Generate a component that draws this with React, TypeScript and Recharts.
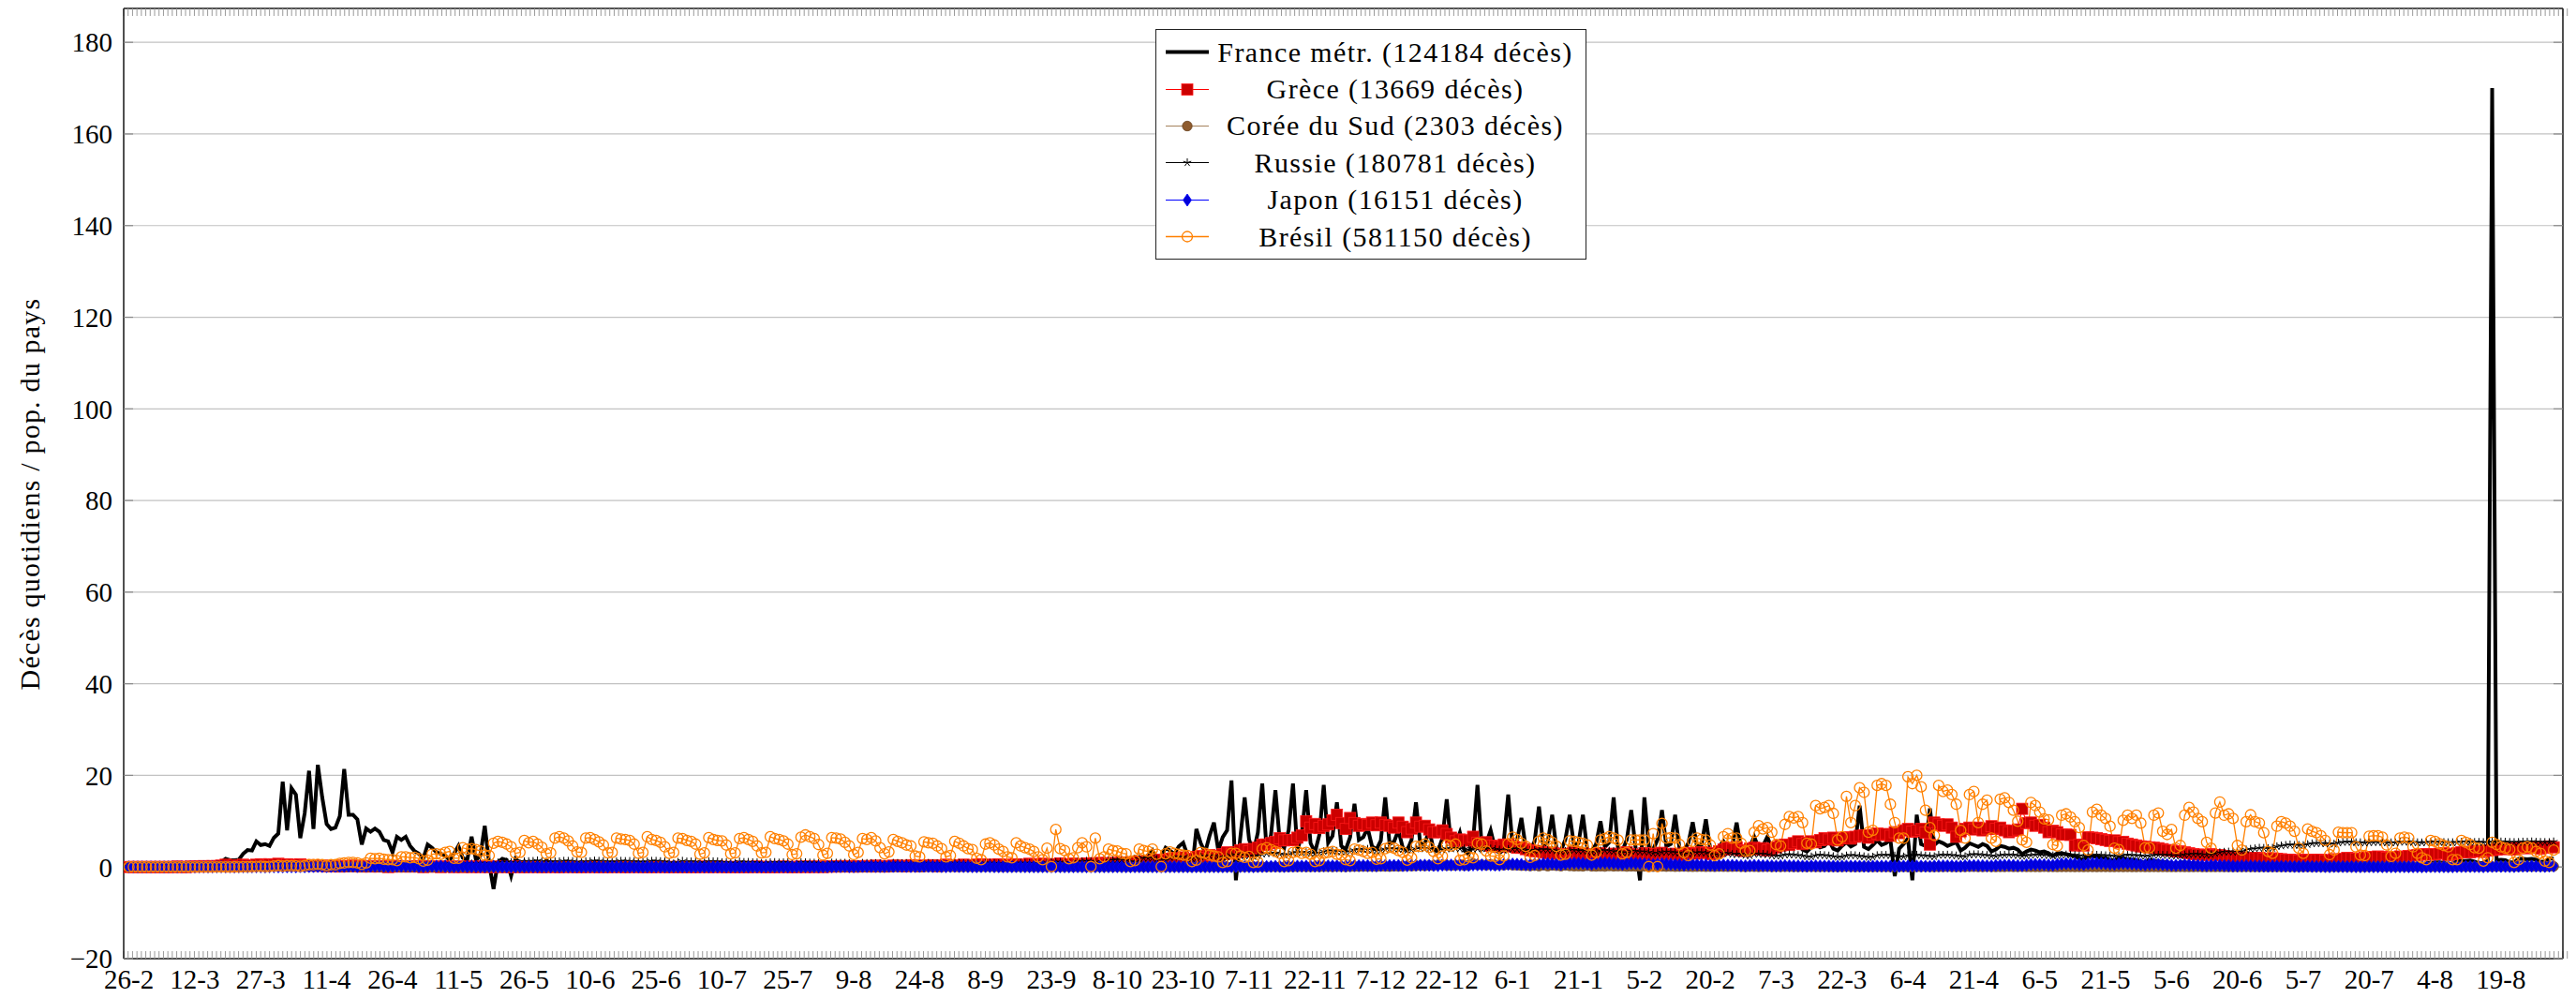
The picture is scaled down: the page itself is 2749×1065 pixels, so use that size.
import { CartesianGrid, Label, Legend, Line, LineChart, XAxis, YAxis } from "recharts";

const FONT = '"Liberation Serif", "DejaVu Serif", serif';

// une étiquette tous les 15 jours à partir du 26-2-2020 (jour 0)
const TICK_LABELS = [
    "26-2", "12-3", "27-3", "11-4", "26-4", "11-5", "26-5", "10-6", "25-6", "10-7", "25-7", "9-8", "24-8",
    "8-9", "23-9", "8-10", "23-10", "7-11", "22-11", "7-12", "22-12", "6-1", "21-1", "5-2", "20-2", "7-3",
    "22-3", "6-4", "21-4", "6-5", "21-5", "5-6", "20-6", "5-7", "20-7", "4-8", "19-8",
];
const Y_TICKS = [-20, 0, 20, 40, 60, 80, 100, 120, 140, 160, 180];

// décès quotidiens / pop. du pays, un chiffre par jour (2 semaines par ligne)
const FRANCE = [
    0, 0, 0, 0, 0, 0, 0, 0, 0, 0, 0, 0, 0, 0.1,
    0.1, 0.2, 0.2, 0.3, 0.4, 0.5, 0.6, 1.1, 1.8, 1.5, 1.5, 1.6, 2.9, 3.7,
    3.6, 5.6, 4.8, 5.0, 4.6, 6.4, 7.3, 18.6, 8.0, 17.2, 15.8, 6.3, 11.7, 21.0,
    8.3, 22.3, 15.2, 9.4, 8.3, 8.6, 11.1, 21.4, 11.4, 11.4, 10.4, 4.9, 8.4, 7.7,
    8.4, 7.7, 5.9, 5.6, 3.2, 6.6, 5.9, 6.6, 4.6, 3.5, 2.9, 1.8, 4.9, 4.2,
    3.2, 2.9, 2.5, 1.5, 2.9, 4.6, 2.0, 1.5, 6.6, 1.5, 2.5, 9.0, 0.8, -4.8,
    1.1, 1.8, 1.5, -1.9, 1.8, 0.9, 1.2, 0.8, 1.0, 0.6, 0.4, 1.4, 0.9, 1.1,
    0.7, 0.5, 0.4, 0.3, 0.4, 1.0, 0.6, 0.5, 0.4, 0.3, 0.2, 0.3, 0.8, 0.4,
    0.3, 0.4, 0.2, 0.1, 0.2, 0.5, 0.4, 0.3, 0.2, 0.2, 0.1, 0.1, 0.4, 0.3,
    0.3, 0.2, 0.2, 0.1, 0.1, 0.4, 0.3, 0.3, 0.2, 0.2, 0.1, 0.1, 0.3, 0.4,
    0.2, 0.3, 0.2, 0.1, 0.1, 0.3, 0.2, 0.2, 0.2, 0.2, 0.1, 0.1, 0.3, 0.2,
    0.3, 0.2, 0.2, 0.1, 0.1, 0.2, 0.3, 0.3, 0.2, 0.2, 0.1, 0.1, 0.3, 0.2,
    0.3, 0.3, 0.2, 0.1, 0.1, 0.4, 0.4, 0.3, 0.4, 0.3, 0.1, 0.2, 0.5, 0.5,
    0.5, 0.4, 0.3, 0.2, 0.2, 0.6, 0.5, 0.6, 0.5, 0.4, 0.2, 0.3, 0.9, 0.8,
    0.8, 0.7, 0.6, 0.3, 0.4, 1.2, 1.0, 1.1, 0.9, 0.8, 0.5, 0.4, 1.4, 1.2,
    1.3, 1.2, 1.0, 0.6, 0.6, 1.6, 1.5, 1.5, 1.3, 1.1, 0.7, 0.7, 1.9, 1.4,
    1.6, 1.5, 1.3, 0.9, 0.8, 2.2, 1.9, 1.8, 2.6, 3.6, 1.5, 2.2, 4.2, 3.6,
    2.8, 4.5, 5.3, 2.5, -0.9, 8.3, 5.2, 3.2, 6.8, 9.7, 3.6, 6.5, 8.0, 18.9,
    -2.9, 6.4, 15.2, 6.0, 3.2, 7.5, 18.2, 3.6, 7.0, 16.8, 5.5, 4.2, 8.0, 18.2,
    3.6, 7.2, 16.8, 5.2, 3.2, 7.0, 17.9, 5.3, 6.8, 14.1, 4.6, 3.8, 6.5, 13.8,
    5.9, 6.5, 8.5, 4.5, 3.8, 5.8, 15.2, 5.0, 5.5, 8.0, 4.2, 3.6, 6.0, 14.1,
    4.8, 5.0, 8.2, 3.8, 3.5, 6.2, 14.8, 4.5, 4.8, 7.5, 3.6, 2.8, 5.5, 17.9,
    4.0, 5.2, 8.0, 4.1, 3.2, 5.8, 15.8, 4.6, 5.8, 10.7, 4.2, 3.5, 5.6, 13.2,
    4.5, 5.5, 11.4, 4.0, 3.6, 6.0, 11.4, 4.6, 5.2, 11.4, 3.8, 3.4, 5.0, 10.0,
    4.4, 5.4, 15.2, 4.0, 3.6, 6.0, 12.4, 4.2, -2.9, 15.2, 4.4, 3.8, 6.0, 12.4,
    4.5, 5.0, 11.4, 4.0, 3.5, 5.2, 9.8, 4.3, 4.8, 10.4, 3.8, 3.4, 4.5, 5.6,
    4.2, 4.6, 9.7, 3.9, 3.5, 4.4, 6.6, 4.2, 4.6, 6.6, 3.9, 3.6, 4.2, 5.0,
    4.1, 4.5, 5.5, 3.8, 3.4, 4.3, 5.2, 4.3, 4.6, 5.8, 4.0, 3.6, 4.6, 5.4,
    4.5, 5.0, 13.4, 4.4, 3.9, 4.8, 5.8, 4.8, 5.2, 6.0, -2.0, 4.0, 5.0, 6.2,
    -2.9, 11.4, 5.0, 4.6, 12.8, 4.8, 5.6, 5.2, 4.6, 5.0, 5.4, 3.6, 4.2, 5.2,
    4.8, 4.4, 5.0, 4.6, 3.4, 3.8, 4.6, 4.4, 4.0, 4.2, 3.8, 2.8, 3.4, 3.8,
    3.6, 3.2, 3.4, 3.0, 2.4, 3.0, 3.0, 2.8, 2.6, 2.4, 1.8, 1.6, 2.4, 2.4,
    2.2, 2.0, 2.0, 1.5, 1.4, 2.0, 1.9, 1.7, 1.6, 1.5, 1.1, 1.0, 1.5, 1.4,
    1.2, 1.1, 1.0, 0.8, 0.7, 1.0, 1.0, 0.9, 0.8, 0.7, 0.5, 0.5, 0.8, 0.7,
    0.6, 0.6, 0.5, 0.4, 0.4, 0.6, 0.5, 0.5, 0.5, 0.4, 0.3, 0.3, 0.4, 0.4,
    0.4, 0.4, 0.3, 0.2, 0.2, 0.4, 0.3, 0.3, 0.3, 0.3, 0.2, 0.2, 0.3, 0.3,
    0.3, 0.3, 0.3, 0.2, 0.2, 0.4, 0.4, 0.4, 0.4, 0.4, 0.3, 0.3, 0.6, 0.6,
    0.7, 0.7, 0.6, 0.4, 0.4, 0.9, 0.9, 1.0, 1.0, 0.9, 0.6, 0.6, 1.3, 1.3,
    1.3, 1.4, 1.2, 0.8, 0.9, 1.6, 170.0, 1.5, 1.6, 1.5, 1.0, 1.0, 1.8, 1.8,
    1.7, 1.8, 1.6, 1.1, 1.2, 1.9, 1.8,
];

const GRECE = [
    0, 0, 0, 0, 0, 0, 0, 0, 0, 0, 0, 0.1, 0, 0,
    0.1, 0.1, 0.1, 0.2, 0.1, 0.2, 0.2, 0.3, 0.5, 0.1, 0.4, 0.2, 0.5, 0.3,
    0.3, 0.5, 0.6, 0.3, 0.6, 0.5, 0.7, 0.4, 0.6, 0.5, 0.3, 0.6, 0.3, 0.4,
    0.3, 0.3, 0.3, 0.2, 0.2, 0.3, 0.1, 0.2, 0.2, 0.3, 0.2, 0.1, 0.2, 0.1,
    0.2, 0.1, 0.2, 0, 0.1, 0.1, 0.2, 0.1, 0.1, 0.2, 0.1, 0, 0.1, 0.1,
    0.1, 0, 0.1, 0.1, 0, 0.1, 0, 0.1, 0, 0.1, 0, 0.1, 0, 0.1,
    0, 0.1, 0, 0, 0.1, 0, 0, 0, 0.1, 0, 0, 0, 0.1, 0,
    0, 0, 0.1, 0, 0, 0, 0, 0.1, 0, 0, 0, 0, 0, 0.1,
    0, 0, 0, 0.1, 0, 0, 0, 0, 0, 0.1, 0, 0, 0, 0,
    0, 0, 0, 0, 0, 0.1, 0, 0, 0.1, 0, 0, 0, 0, 0,
    0, 0, 0, 0.1, 0, 0, 0, 0, 0, 0.1, 0, 0, 0, 0.1,
    0, 0.1, 0, 0.1, 0, 0.1, 0.1, 0.1, 0.2, 0.1, 0.2, 0.1, 0.1, 0.2,
    0.2, 0.1, 0.3, 0.2, 0.1, 0.2, 0.3, 0.3, 0.2, 0.2, 0.4, 0.3, 0.2, 0.3,
    0.3, 0.4, 0.2, 0.3, 0.5, 0.4, 0.3, 0.3, 0.5, 0.4, 0.3, 0.5, 0.6, 0.4,
    0.5, 0.4, 0.6, 0.3, 0.5, 0.4, 0.6, 0.5, 0.4, 0.7, 0.6, 0.5, 0.7, 0.4,
    0.5, 0.6, 0.8, 0.5, 0.6, 0.7, 0.5, 0.6, 0.8, 0.7, 0.5, 0.9, 0.6, 0.8,
    0.9, 0.7, 1.0, 0.8, 0.9, 1.1, 1.2, 1.2, 1.4, 1.1, 0.9, 1.6, 1.5, 1.8,
    1.9, 1.7, 2.1, 1.5, 1.8, 2.2, 2.4, 2.0, 2.6, 2.4, 2.2, 2.8, 3.2, 2.9,
    3.2, 3.6, 3.9, 3.4, 3.9, 4.2, 4.9, 4.9, 5.2, 5.5, 6.3, 5.8, 5.9, 5.9,
    6.4, 6.9, 10.0, 8.6, 9.4, 8.5, 9.0, 9.3, 10.2, 11.4, 9.6, 8.3, 10.7, 9.6,
    9.0, 9.4, 9.2, 9.7, 9.1, 9.7, 9.2, 9.0, 8.6, 9.7, 8.8, 7.6, 8.4, 9.7,
    8.8, 9.0, 8.2, 7.6, 7.6, 8.0, 7.2, 6.4, 5.6, 6.0, 5.8, 5.8, 6.6, 5.3,
    5.0, 5.4, 4.6, 4.6, 4.4, 4.9, 4.9, 4.5, 4.2, 4.2, 3.9, 3.6, 3.5, 3.4,
    3.2, 3.0, 3.1, 2.9, 2.8, 2.7, 2.9, 3.2, 2.8, 2.9, 2.6, 2.7, 2.8, 3.0,
    2.6, 2.5, 2.9, 2.4, 2.7, 3.2, 2.8, 2.5, 2.6, 3.0, 2.8, 2.4, 2.9, 3.1,
    2.7, 2.8, 2.9, 2.5, 2.6, 3.1, 3.0, 2.9, 3.2, 3.1, 2.8, 3.0, 3.4, 3.8,
    4.2, 3.9, 4.3, 3.6, 3.5, 4.0, 4.2, 3.8, 4.1, 3.6, 3.9, 4.3, 4.7, 4.9,
    4.8, 5.2, 5.6, 5.0, 5.3, 5.6, 5.4, 5.9, 6.3, 6.0, 6.4, 5.8, 6.3, 6.5,
    6.2, 6.6, 6.8, 6.9, 6.4, 7.0, 7.3, 7.0, 7.2, 6.8, 7.6, 7.4, 8.0, 8.3,
    7.7, 7.9, 8.3, 7.5, 4.9, 9.7, 9.3, 9.0, 9.3, 8.6, 6.6, 7.8, 8.3, 8.6,
    8.2, 8.6, 8.0, 8.4, 8.9, 8.3, 8.6, 8.0, 7.6, 7.9, 8.2, 12.7, 9.6, 9.7,
    9.0, 9.2, 8.6, 7.6, 7.9, 7.6, 7.1, 7.1, 7.0, 4.7, 4.9, 4.7, 6.5, 6.4,
    6.3, 6.1, 5.9, 5.7, 5.8, 5.4, 5.5, 5.1, 4.9, 4.7, 4.5, 4.4, 4.3, 4.2,
    4.1, 3.9, 3.7, 3.6, 3.4, 3.4, 3.2, 3.0, 2.8, 2.7, 2.7, 2.6, 2.8, 2.6,
    2.6, 2.4, 2.3, 2.2, 2.0, 2.1, 2.0, 2.0, 1.9, 2.0, 1.8, 1.7, 1.9, 1.8,
    1.7, 1.6, 1.6, 1.5, 1.4, 1.6, 1.5, 1.6, 1.5, 1.6, 1.4, 1.5, 1.7, 1.6,
    1.8, 2.0, 1.9, 1.8, 1.7, 2.1, 2.0, 2.2, 2.3, 2.2, 2.0, 2.0, 2.1, 2.3,
    2.2, 2.4, 2.5, 2.6, 2.7, 2.8, 2.7, 2.8, 2.9, 3.0, 2.6, 2.8, 3.0, 3.2,
    3.3, 3.2, 3.5, 3.4, 3.3, 3.6, 3.7, 3.8, 4.0, 3.9, 4.1, 3.8, 4.2, 4.3,
    4.1, 4.3, 4.4, 4.0, 4.2, 4.5, 4.3,
];

const COREE = [
    0.02, 0.04, 0.04, 0.02, 0.02, 0.06, 0.06, 0.1, 0.06, 0.08, 0.04, 0.06, 0.08, 0.12,
    0.06, 0.1, 0.06, 0.1, 0.04, 0.1, 0.06, 0.14, 0.04, 0.16, 0.06, 0.12, 0.1, 0.08,
    0.12, 0.1, 0.18, 0.08, 0.12, 0.12, 0.08, 0.08, 0.06, 0.1, 0.08, 0.06, 0.06, 0.08,
    0.06, 0.08, 0.06, 0.04, 0.06, 0.04, 0.04, 0.04, 0.02, 0.04, 0.02, 0.02, 0.02, 0.02,
    0.02, 0.02, 0, 0.02, 0.02, 0.02, 0, 0.02, 0, 0.02, 0, 0, 0.02, 0,
    0, 0.02, 0, 0, 0.02, 0, 0, 0, 0, 0.02, 0, 0, 0, 0.02,
    0, 0, 0, 0.02, 0, 0, 0, 0.02, 0, 0, 0, 0, 0.02, 0,
    0, 0.02, 0, 0, 0, 0, 0.02, 0, 0, 0.02, 0, 0, 0, 0,
    0.02, 0, 0, 0.02, 0, 0, 0, 0, 0, 0.02, 0, 0, 0, 0.02,
    0, 0.02, 0, 0, 0, 0.02, 0, 0, 0, 0.02, 0, 0, 0, 0,
    0.02, 0, 0, 0, 0.02, 0, 0, 0, 0, 0.02, 0, 0, 0, 0,
    0, 0.02, 0, 0, 0, 0, 0.02, 0, 0, 0, 0.02, 0, 0, 0,
    0, 0.02, 0, 0, 0, 0.02, 0, 0.02, 0.04, 0.02, 0.04, 0.02, 0, 0.02,
    0.04, 0.02, 0.04, 0.02, 0.06, 0.02, 0.04, 0.02, 0.04, 0.02, 0.06, 0.04, 0.02, 0.04,
    0.06, 0.02, 0.04, 0.02, 0.04, 0.02, 0.02, 0.04, 0.02, 0.02, 0.04, 0.02, 0.02, 0.04,
    0.02, 0.04, 0.02, 0.02, 0.04, 0.02, 0.02, 0.02, 0.02, 0.04, 0.02, 0.02, 0.02, 0.04,
    0.02, 0.04, 0.02, 0.02, 0.02, 0.04, 0.02, 0.02, 0.02, 0.02, 0.04, 0.02, 0.02, 0.02,
    0.04, 0.02, 0.02, 0.02, 0.02, 0.04, 0.02, 0.02, 0.02, 0.04, 0.02, 0.02, 0.02, 0.02,
    0.04, 0.02, 0.02, 0.04, 0.02, 0.02, 0.04, 0.02, 0.04, 0.04, 0.02, 0.04, 0.02, 0.04,
    0.04, 0.06, 0.04, 0.04, 0.06, 0.04, 0.06, 0.06, 0.04, 0.08, 0.06, 0.04, 0.08, 0.1,
    0.1, 0.12, 0.1, 0.12, 0.1, 0.14, 0.12, 0.1, 0.16, 0.12, 0.16, 0.24, 0.2, 0.24,
    0.3, 0.24, 0.34, 0.28, 0.48, 0.46, 0.32, 0.34, 0.34, 0.48, 0.3, 0.36, 0.78, 0.46,
    0.5, 0.38, 0.56, 0.38, 0.48, 0.4, 0.5, 0.4, 0.38, 0.3, 0.3, 0.22, 0.3, 0.2,
    0.4, 0.2, 0.36, 0.28, 0.2, 0.34, 0.24, 0.18, 0.2, 0.16, 0.28, 0.16, 0.14, 0.18,
    0.12, 0.22, 0.16, 0.18, 0.2, 0.12, 0.16, 0.14, 0.12, 0.16, 0.1, 0.08, 0.12, 0.14,
    0.1, 0.12, 0.08, 0.1, 0.12, 0.08, 0.06, 0.08, 0.1, 0.06, 0.08, 0.06, 0.1, 0.08,
    0.06, 0.08, 0.1, 0.06, 0.04, 0.08, 0.06, 0.04, 0.06, 0.08, 0.04, 0.06, 0.04, 0.06,
    0.06, 0.04, 0.04, 0.06, 0.04, 0.06, 0.04, 0.04, 0.06, 0.04, 0.04, 0.02, 0.04, 0.06,
    0.04, 0.02, 0.04, 0.06, 0.04, 0.02, 0.04, 0.04, 0.04, 0.02, 0.04, 0.06, 0.04, 0.02,
    0.02, 0.04, 0.04, 0.06, 0.04, 0.02, 0.04, 0.04, 0.06, 0.04, 0.02, 0.04, 0.04, 0.06,
    0.06, 0.04, 0.04, 0.06, 0.04, 0.02, 0.04, 0.04, 0.06, 0.04, 0.04, 0.06, 0.04, 0.04,
    0.04, 0.02, 0.06, 0.04, 0.04, 0.02, 0.04, 0.04, 0.04, 0.02, 0.04, 0.02, 0.04, 0.04,
    0.02, 0.04, 0.04, 0.02, 0.02, 0.04, 0.02, 0.04, 0.02, 0.02, 0.04, 0.02, 0.02, 0.04,
    0.02, 0.04, 0.02, 0.02, 0.02, 0.04, 0.02, 0.02, 0.02, 0.04, 0.02, 0.02, 0.02, 0.02,
    0.04, 0.02, 0.02, 0.02, 0.02, 0.02, 0.04, 0.02, 0.02, 0.02, 0.04, 0.02, 0.02, 0.02,
    0.02, 0.04, 0.02, 0.02, 0.02, 0.02, 0.04, 0.02, 0.02, 0.04, 0.02, 0.02, 0.04, 0.02,
    0.04, 0.02, 0.02, 0.04, 0.02, 0.02, 0.04, 0.04, 0.06, 0.04, 0.04, 0.06, 0.04, 0.06,
    0.06, 0.04, 0.06, 0.08, 0.04, 0.06, 0.04, 0.06, 0.08, 0.06, 0.04, 0.08, 0.06, 0.08,
    0.08, 0.06, 0.1, 0.08, 0.06, 0.1, 0.08, 0.1, 0.08, 0.12, 0.1, 0.08, 0.1, 0.12,
    0.12, 0.1, 0.12, 0.14, 0.1, 0.12, 0.14,
];

const RUSSIE = [
    0, 0, 0, 0, 0, 0, 0, 0, 0, 0, 0, 0, 0, 0,
    0, 0, 0, 0, 0, 0, 0, 0, 0, 0, 0, 0, 0, 0,
    0, 0, 0, 0.01, 0.01, 0.01, 0.01, 0.02, 0.02, 0.03, 0.04, 0.03, 0.05, 0.06,
    0.07, 0.09, 0.1, 0.12, 0.13, 0.15, 0.16, 0.2, 0.2, 0.28, 0.29, 0.33, 0.29, 0.33,
    0.38, 0.45, 0.4, 0.47, 0.51, 0.41, 0.42, 0.55, 0.5, 0.66, 0.39, 0.42, 0.47, 0.54,
    0.6, 0.64, 0.67, 0.72, 0.7, 0.66, 0.59, 0.79, 0.72, 0.74, 0.86, 0.81, 0.66, 0.63,
    0.93, 1.03, 1.12, 1.0, 0.95, 0.73, 1.19, 1.21, 1.26, 1.38, 1.18, 1.14, 1.07, 1.18,
    1.17, 1.3, 1.28, 1.23, 1.15, 0.93, 1.2, 1.2, 1.34, 1.29, 1.2, 1.18, 1.05, 1.17,
    1.3, 1.24, 1.25, 1.17, 1.1, 1.07, 1.16, 1.3, 1.29, 1.21, 1.15, 0.99, 0.74, 1.06,
    1.3, 1.15, 1.15, 1.14, 0.92, 0.91, 1.19, 1.19, 1.17, 1.0, 1.01, 0.9, 0.82, 1.15,
    1.03, 1.06, 0.98, 0.96, 0.83, 0.78, 0.97, 1.02, 0.91, 0.96, 0.97, 0.63, 0.65, 0.99,
    0.98, 0.9, 0.88, 0.83, 0.64, 0.48, 0.91, 0.88, 0.84, 0.87, 0.77, 0.48, 0.56, 0.84,
    0.81, 0.8, 0.79, 0.76, 0.58, 0.47, 0.85, 0.82, 0.78, 0.78, 0.7, 0.5, 0.45, 0.83,
    0.82, 0.76, 0.73, 0.7, 0.44, 0.49, 0.85, 0.82, 0.77, 0.73, 0.65, 0.51, 0.46, 0.87,
    0.87, 0.78, 0.76, 0.72, 0.5, 0.46, 0.88, 0.84, 0.85, 0.8, 0.76, 0.46, 0.55, 0.93,
    1.01, 1.04, 1.08, 0.93, 0.74, 0.74, 1.16, 1.17, 1.28, 1.24, 1.11, 0.89, 0.95, 1.43,
    1.48, 1.56, 1.58, 1.4, 1.12, 1.1, 1.75, 1.96, 1.94, 1.95, 1.67, 1.41, 1.47, 2.1,
    2.2, 2.16, 2.2, 1.95, 1.8, 1.87, 2.21, 2.38, 2.46, 2.4, 2.13, 2.0, 2.19, 2.52,
    2.67, 2.57, 2.5, 2.45, 2.3, 2.51, 2.8, 2.97, 2.99, 3.01, 2.83, 2.65, 2.75, 3.12,
    3.13, 3.19, 3.17, 3.0, 3.0, 3.1, 3.39, 3.53, 3.53, 3.45, 3.39, 3.28, 3.38, 3.68,
    3.86, 3.88, 3.9, 3.7, 3.51, 3.64, 3.87, 3.98, 3.94, 3.91, 3.88, 3.68, 3.76, 3.96,
    4.1, 4.0, 3.96, 3.83, 3.75, 3.8, 3.99, 4.0, 4.06, 3.99, 3.95, 3.79, 3.88, 4.0,
    4.05, 4.01, 3.96, 3.84, 3.73, 3.64, 3.86, 3.96, 3.9, 3.84, 3.64, 3.6, 3.6, 3.77,
    3.82, 3.71, 3.68, 3.58, 3.38, 3.44, 3.6, 3.65, 3.56, 3.51, 3.42, 3.21, 3.2, 3.52,
    3.63, 3.5, 3.4, 3.3, 3.12, 3.1, 3.46, 3.47, 3.29, 3.31, 3.2, 2.98, 2.99, 3.22,
    3.27, 3.24, 3.1, 3.08, 2.75, 2.86, 3.04, 3.13, 3.15, 3.05, 2.82, 2.67, 2.59, 2.96,
    2.99, 2.76, 2.76, 2.79, 2.55, 2.48, 2.82, 2.78, 2.8, 2.7, 2.48, 2.4, 2.43, 2.67,
    2.68, 2.66, 2.54, 2.44, 2.21, 2.24, 2.52, 2.6, 2.52, 2.44, 2.3, 2.14, 2.2, 2.45,
    2.55, 2.5, 2.36, 2.27, 2.1, 2.18, 2.52, 2.57, 2.58, 2.53, 2.44, 2.29, 2.23, 2.52,
    2.6, 2.6, 2.51, 2.44, 2.33, 2.27, 2.61, 2.59, 2.63, 2.54, 2.46, 2.32, 2.28, 2.66,
    2.71, 2.72, 2.62, 2.56, 2.41, 2.35, 2.57, 2.61, 2.66, 2.6, 2.52, 2.38, 2.47, 2.58,
    2.67, 2.63, 2.59, 2.52, 2.47, 2.49, 2.6, 2.66, 2.62, 2.58, 2.48, 2.4, 2.45, 2.59,
    2.6, 2.54, 2.49, 2.43, 2.3, 2.33, 2.53, 2.58, 2.55, 2.5, 2.45, 2.35, 2.38, 2.59,
    2.6, 2.58, 2.55, 2.46, 2.4, 2.44, 2.64, 2.73, 2.79, 2.78, 2.64, 2.62, 2.69, 2.96,
    3.15, 3.26, 3.3, 3.27, 3.25, 3.39, 3.76, 3.9, 4.0, 4.14, 4.1, 4.05, 4.13, 4.46,
    4.63, 4.75, 4.86, 4.75, 4.75, 4.72, 4.93, 5.11, 5.17, 5.16, 5.08, 5.09, 5.03, 5.27,
    5.41, 5.45, 5.43, 5.34, 5.33, 5.26, 5.34, 5.38, 5.41, 5.4, 5.29, 5.31, 5.3, 5.46,
    5.44, 5.47, 5.39, 5.33, 5.29, 5.35, 5.4, 5.44, 5.43, 5.38, 5.34, 5.34, 5.37, 5.44,
    5.45, 5.43, 5.4, 5.41, 5.37, 5.34, 5.47, 5.48, 5.5, 5.46, 5.4, 5.38, 5.4, 5.48,
    5.47, 5.52, 5.44, 5.41, 5.39, 5.37, 5.52,
];

const JAPON = [
    0, 0, 0, 0, 0, 0, 0, 0, 0, 0.01, 0, 0, 0.01, 0,
    0.01, 0.01, 0, 0.02, 0, 0.01, 0.01, 0.02, 0.01, 0.02, 0, 0.01, 0.02, 0.02,
    0.02, 0.03, 0.03, 0.01, 0.04, 0.05, 0.04, 0.03, 0.05, 0.06, 0.03, 0.08, 0.06, 0.09,
    0.1, 0.12, 0.1, 0.08, 0.11, 0.14, 0.15, 0.13, 0.2, 0.16, 0.1, 0.22, 0.18, 0.15,
    0.2, 0.23, 0.17, 0.12, 0.15, 0.18, 0.21, 0.19, 0.17, 0.15, 0.12, 0.1, 0.16, 0.2,
    0.14, 0.18, 0.12, 0.1, 0.08, 0.13, 0.16, 0.1, 0.09, 0.08, 0.06, 0.05, 0.1, 0.09,
    0.07, 0.06, 0.05, 0.03, 0.04, 0.07, 0.06, 0.05, 0.03, 0.03, 0.02, 0.02, 0.05, 0.04,
    0.03, 0.02, 0.02, 0.01, 0.01, 0.02, 0.02, 0.02, 0.01, 0.02, 0.01, 0.01, 0.02, 0.01,
    0.01, 0.02, 0.01, 0, 0.01, 0.01, 0.02, 0.01, 0.01, 0.01, 0, 0, 0.02, 0.01,
    0.01, 0.01, 0.01, 0, 0, 0.01, 0.01, 0.01, 0.02, 0.01, 0, 0.01, 0.01, 0.01,
    0.02, 0.01, 0.02, 0.01, 0, 0.02, 0.02, 0.02, 0.03, 0.02, 0.01, 0.02, 0.03, 0.04,
    0.04, 0.05, 0.04, 0.03, 0.04, 0.06, 0.07, 0.08, 0.09, 0.1, 0.07, 0.06, 0.1, 0.12,
    0.11, 0.12, 0.1, 0.09, 0.08, 0.13, 0.12, 0.13, 0.12, 0.11, 0.09, 0.1, 0.12, 0.14,
    0.12, 0.1, 0.11, 0.08, 0.07, 0.1, 0.12, 0.1, 0.09, 0.08, 0.07, 0.06, 0.08, 0.1,
    0.08, 0.07, 0.06, 0.06, 0.05, 0.07, 0.08, 0.06, 0.06, 0.05, 0.04, 0.04, 0.06, 0.06,
    0.05, 0.05, 0.04, 0.04, 0.03, 0.05, 0.06, 0.05, 0.04, 0.05, 0.04, 0.04, 0.05, 0.05,
    0.05, 0.06, 0.05, 0.04, 0.03, 0.05, 0.06, 0.05, 0.05, 0.05, 0.04, 0.03, 0.05, 0.06,
    0.06, 0.05, 0.06, 0.05, 0.04, 0.06, 0.07, 0.06, 0.07, 0.06, 0.05, 0.05, 0.07, 0.08,
    0.08, 0.09, 0.08, 0.07, 0.06, 0.09, 0.1, 0.12, 0.13, 0.14, 0.12, 0.1, 0.15, 0.17,
    0.2, 0.19, 0.2, 0.18, 0.16, 0.22, 0.25, 0.26, 0.24, 0.25, 0.22, 0.2, 0.27, 0.3,
    0.3, 0.32, 0.29, 0.27, 0.26, 0.33, 0.36, 0.33, 0.36, 0.34, 0.3, 0.28, 0.38, 0.4,
    0.38, 0.4, 0.37, 0.33, 0.3, 0.42, 0.45, 0.43, 0.44, 0.42, 0.38, 0.33, 0.45, 0.48,
    0.46, 0.5, 0.45, 0.4, 0.42, 0.55, 0.6, 0.64, 0.6, 0.58, 0.5, 0.48, 0.62, 0.7,
    0.72, 0.75, 0.7, 0.62, 0.55, 0.72, 0.8, 0.85, 0.82, 0.8, 0.7, 0.65, 0.78, 0.88,
    0.9, 0.85, 0.82, 0.72, 0.6, 0.75, 0.85, 0.8, 0.75, 0.7, 0.6, 0.55, 0.65, 0.72,
    0.68, 0.62, 0.58, 0.5, 0.42, 0.52, 0.56, 0.52, 0.48, 0.45, 0.38, 0.33, 0.42, 0.45,
    0.4, 0.38, 0.35, 0.3, 0.26, 0.32, 0.36, 0.33, 0.3, 0.29, 0.25, 0.22, 0.28, 0.3,
    0.27, 0.26, 0.24, 0.2, 0.18, 0.24, 0.25, 0.24, 0.22, 0.22, 0.18, 0.16, 0.2, 0.22,
    0.2, 0.18, 0.18, 0.15, 0.13, 0.18, 0.2, 0.2, 0.19, 0.18, 0.15, 0.14, 0.19, 0.22,
    0.22, 0.2, 0.2, 0.17, 0.15, 0.22, 0.25, 0.26, 0.25, 0.24, 0.2, 0.19, 0.28, 0.32,
    0.33, 0.32, 0.3, 0.26, 0.25, 0.35, 0.4, 0.42, 0.4, 0.38, 0.32, 0.3, 0.45, 0.55,
    0.58, 0.55, 0.52, 0.45, 0.42, 0.6, 0.7, 0.75, 0.72, 0.7, 0.6, 0.55, 0.72, 0.82,
    0.85, 0.8, 0.76, 0.65, 0.6, 0.72, 0.8, 0.75, 0.7, 0.65, 0.55, 0.5, 0.6, 0.65,
    0.6, 0.55, 0.5, 0.42, 0.38, 0.45, 0.48, 0.45, 0.42, 0.38, 0.32, 0.28, 0.35, 0.36,
    0.33, 0.3, 0.27, 0.22, 0.2, 0.25, 0.26, 0.24, 0.22, 0.2, 0.16, 0.14, 0.18, 0.19,
    0.17, 0.15, 0.14, 0.11, 0.1, 0.13, 0.14, 0.12, 0.11, 0.1, 0.08, 0.07, 0.1, 0.1,
    0.09, 0.08, 0.08, 0.06, 0.05, 0.08, 0.08, 0.07, 0.07, 0.06, 0.05, 0.05, 0.07, 0.07,
    0.07, 0.06, 0.06, 0.05, 0.04, 0.07, 0.08, 0.08, 0.07, 0.07, 0.06, 0.05, 0.08, 0.1,
    0.1, 0.1, 0.09, 0.08, 0.07, 0.1, 0.12, 0.13, 0.12, 0.12, 0.1, 0.09, 0.13, 0.16,
    0.17, 0.18, 0.17, 0.14, 0.12, 0.18, 0.22,
];

const BRESIL = [
    0, 0, 0, 0, 0, 0, 0, 0, 0, 0, 0, 0, 0, 0,
    0, 0, 0, 0, 0, 0, 0.01, 0.01, 0.02, 0.03, 0.04, 0.03, 0.05, 0.06,
    0.1, 0.12, 0.15, 0.1, 0.12, 0.2, 0.3, 0.2, 0.3, 0.28, 0.28, 0.18, 0.3, 0.5,
    0.5, 0.6, 0.5, 0.3, 0.5, 0.5, 0.8, 0.9, 1.0, 1.0, 0.9, 0.6, 0.9, 1.9,
    1.8, 1.9, 1.7, 1.6, 1.6, 1.4, 2.2, 2.2, 2.0, 2.1, 1.8, 1.3, 1.5, 2.8,
    2.9, 2.8, 3.2, 3.4, 1.9, 1.9, 4.2, 3.9, 4.0, 3.8, 3.5, 2.6, 2.5, 5.2,
    5.6, 5.4, 5.0, 4.4, 3.0, 3.2, 5.8, 5.3, 5.6, 5.0, 4.3, 2.9, 3.1, 6.3,
    6.6, 6.3, 5.7, 4.6, 3.3, 3.2, 6.3, 6.4, 6.0, 5.5, 4.8, 3.1, 3.2, 6.3,
    6.1, 6.0, 5.8, 5.0, 3.0, 3.2, 6.6, 6.0, 5.8, 5.4, 4.4, 3.0, 3.2, 6.3,
    6.2, 5.8, 5.6, 5.0, 2.8, 3.1, 6.4, 6.0, 5.8, 5.7, 4.8, 2.9, 3.1, 6.2,
    6.4, 6.0, 5.6, 4.6, 3.1, 3.2, 6.6, 6.2, 6.0, 5.7, 5.0, 2.7, 2.9, 6.5,
    7.0, 6.6, 6.2, 4.9, 2.6, 3.0, 6.4, 6.3, 6.1, 5.4, 4.6, 2.7, 3.2, 6.2,
    6.0, 6.4, 5.7, 4.2, 2.9, 3.3, 6.0, 5.6, 5.3, 4.8, 4.6, 2.4, 2.2, 5.5,
    5.3, 5.2, 4.6, 4.0, 2.2, 2.5, 5.6, 5.2, 4.6, 4.0, 3.8, 1.9, 1.6, 5.0,
    5.3, 4.8, 3.9, 3.4, 2.2, 2.0, 5.3, 4.6, 4.2, 3.9, 3.4, 2.2, 1.6, 4.1,
    0.1, 8.2, 4.0, 3.6, 1.8, 2.0, 4.2, 5.3, 4.4, 0.1, 6.3, 1.8, 2.2, 3.9,
    3.6, 3.5, 3.0, 2.9, 1.2, 1.4, 3.9, 3.6, 3.4, 3.9, 2.8, 0.1, 2.9, 3.3,
    3.0, 2.8, 2.6, 2.5, 1.2, 1.5, 3.2, 3.0, 2.6, 2.4, 2.2, 1.0, 1.2, 3.0,
    3.0, 2.4, 2.1, 2.3, 1.0, 1.1, 3.9, 4.2, 3.8, 3.4, 3.0, 1.2, 1.4, 3.2,
    3.4, 3.0, 3.2, 2.8, 1.2, 1.4, 3.0, 3.2, 3.4, 2.8, 2.6, 1.6, 1.4, 3.9,
    3.7, 3.4, 3.0, 3.2, 1.7, 1.8, 4.0, 4.3, 4.1, 3.6, 3.2, 1.5, 2.0, 4.5,
    4.5, 5.0, 4.3, 3.4, 1.8, 2.4, 4.8, 4.6, 5.0, 1.5, 1.6, 2.2, 2.0, 5.2,
    5.0, 3.5, 2.4, 2.3, 1.6, 2.4, 5.1, 6.5, 6.0, 5.2, 4.5, 2.1, 2.5, 5.6,
    6.3, 6.0, 5.4, 4.5, 2.6, 2.8, 5.7, 5.6, 5.4, 5.2, 4.8, 2.6, 3.2, 5.9,
    6.2, 6.6, 6.3, 5.9, 2.9, 3.2, 5.9, 5.9, 5.9, 5.9, 0.1, 7.3, 0.1, 9.5,
    6.3, 6.4, 6.3, 4.9, 3.2, 2.5, 5.6, 6.3, 6.0, 5.9, 4.8, 2.5, 2.9, 6.6,
    7.3, 6.3, 6.3, 5.2, 3.5, 3.6, 7.6, 9.0, 8.3, 8.6, 7.6, 4.9, 4.6, 9.3,
    11.0, 10.7, 11.0, 9.7, 5.2, 5.0, 13.4, 12.7, 13.0, 13.4, 11.7, 5.9, 6.6, 15.4,
    9.7, 13.4, 17.3, 16.3, 7.6, 8.0, 17.8, 18.2, 17.8, 13.7, 9.7, 6.3, 6.3, 19.7,
    18.2, 20.0, 17.5, 12.4, 8.6, 6.9, 17.8, 16.5, 16.8, 15.8, 13.7, 8.0, 6.3, 15.8,
    16.5, 9.7, 13.7, 14.6, 6.3, 5.6, 14.8, 15.1, 14.1, 12.4, 10.0, 5.9, 5.4, 14.1,
    13.4, 12.0, 10.5, 10.3, 4.9, 4.6, 11.3, 11.6, 10.9, 9.9, 8.6, 4.7, 3.7, 12.0,
    12.6, 11.3, 10.6, 8.9, 4.1, 3.8, 10.2, 11.3, 10.6, 11.3, 9.6, 4.2, 4.2, 11.3,
    11.8, 7.8, 7.1, 8.2, 4.1, 4.7, 11.3, 13.0, 12.0, 10.6, 9.9, 5.4, 4.1, 11.8,
    14.2, 11.3, 11.6, 10.6, 4.7, 3.7, 9.9, 11.4, 9.9, 9.6, 7.5, 3.4, 3.0, 8.9,
    9.9, 9.6, 8.9, 7.8, 4.1, 3.0, 8.3, 7.8, 7.5, 6.8, 5.8, 2.7, 3.7, 7.6,
    7.5, 7.5, 7.5, 4.4, 2.6, 2.5, 6.7, 6.8, 6.8, 6.5, 4.8, 2.3, 3.0, 6.3,
    6.5, 6.3, 4.4, 3.0, 2.0, 1.6, 5.8, 5.6, 5.1, 4.7, 4.4, 1.6, 1.6, 5.8,
    5.4, 4.9, 4.2, 4.1, 1.3, 2.0, 5.4, 4.9, 4.4, 4.1, 3.8, 1.0, 1.6, 4.1,
    4.4, 4.1, 3.4, 3.0, 1.3, 1.0, 3.7,
];

const NOMS = {
    france: "France métr. (124184 décès)",
    grece: "Grèce (13669 décès)",
    coree: "Corée du Sud (2303 décès)",
    russie: "Russie (180781 décès)",
    japon: "Japon (16151 décès)",
    bresil: "Brésil (581150 décès)",
};

const data = FRANCE.map((v, i) => ({
    jour: i,
    france: v,
    grece: GRECE[i],
    coree: COREE[i],
    russie: RUSSIE[i],
    japon: JAPON[i],
    bresil: BRESIL[i],
}));

const X_DOMAIN = [-1.2, 554.1];
const Y_DOMAIN = [-20, 187.4];
const majorTicks = TICK_LABELS.map((_, i) => i * 15);
const minorTicks = Array.from({ length: 555 }, (_, i) => i);
const tickStyle = { fontSize: 29, fill: "#000", fontFamily: FONT };
const noLabel = () => "";

// marqueurs à la pgfplots
const STAR = [0, 1, 2, 3, 4].map((k) => {
    const a = Math.PI / 2 + (k * 2 * Math.PI) / 5;
    return [Math.cos(a) * 4.5, -Math.sin(a) * 4.5];
});

function marker(kind: string, cx: number, cy: number, key?: string) {
    switch (kind) {
        case "grece":
            return <rect key={key} x={cx - 6} y={cy - 6} width={12} height={12} fill="#cc0000" stroke="#ff1a1a" strokeWidth={0.8} />;
        case "coree":
            return <circle key={key} cx={cx} cy={cy} r={5.2} fill="#8e5b2e" stroke="#6a4220" strokeWidth={0.8} />;
        case "russie":
            return <path key={key} d={STAR.map(([dx, dy]) => `M${cx},${cy}L${cx + dx},${cy + dy}`).join("")} stroke="#000" strokeWidth={1} fill="none" />;
        case "japon":
            return <path key={key} d={`M${cx},${cy - 6.5}L${cx + 4.5},${cy}L${cx},${cy + 6.5}L${cx - 4.5},${cy}Z`} fill="#0000d8" stroke="#0000ff" strokeWidth={0.8} />;
        case "bresil":
            return <circle key={key} cx={cx} cy={cy} r={5.5} fill="none" stroke="#ff8000" strokeWidth={1.3} />;
        default:
            return null;
    }
}

const dotFor = (kind: string) => (p: any) => {
    if (p.cx == null || p.cy == null) return <g key={`${kind}-${p.index}`} />;
    return marker(kind, p.cx, p.cy, `${kind}-${p.index}`);
};

const SERIES = [
    { key: "france", color: "#000000", width: 4 },
    { key: "grece", color: "#ff0000", width: 1 },
    { key: "coree", color: "#a5825c", width: 1.2 },
    { key: "russie", color: "#000000", width: 1 },
    { key: "japon", color: "#0000ff", width: 1 },
    { key: "bresil", color: "#ff8000", width: 1.3 },
];

function LegendBox() {
    return (
        <div
            style={{
                width: 460,
                boxSizing: "border-box",
                border: "1.5px solid #222",
                background: "#fff",
                padding: "4px 0",
                fontFamily: FONT,
                fontSize: 30,
                color: "#000",
            }}
        >
            {SERIES.map((s) => (
                <div key={s.key} style={{ display: "flex", alignItems: "center", height: 39.4 }}>
                    <svg width={60} height={39} style={{ flex: "none" }}>
                        <line x1={10} y1={19.5} x2={56} y2={19.5} stroke={s.color} strokeWidth={s.width} />
                        {marker(s.key, 33, 19.5)}
                    </svg>
                    <span style={{ flex: 1, textAlign: "center", whiteSpace: "nowrap", letterSpacing: 1.4, paddingRight: 8 }}>
                        {NOMS[s.key as keyof typeof NOMS]}
                    </span>
                </div>
            ))}
        </div>
    );
}

const renderYTitle = (props: any) => {
    const vb = props.viewBox || { x: 0, y: 1, width: 124, height: 1014 };
    const x = vb.x + 34;
    const y = vb.y + vb.height / 2 + 11;
    return (
        <text
            x={x}
            y={y}
            transform={`rotate(-90 ${x} ${y})`}
            textAnchor="middle"
            fontSize={30}
            fontFamily={FONT}
            letterSpacing={1.2}
            fill="#000"
        >
            Décès quotidiens / pop. du pays
        </text>
    );
};

const fmtY = (v: number) => (v < 0 ? `\u2212${Math.abs(v)}` : `${v}`);

export default function App() {
    return (
        <div style={{ fontFamily: FONT, width: 2733, height: 1055 }}>
            <LineChart width={2733} height={1055} data={data} margin={{ top: 1, right: 6, bottom: 0, left: 0 }} style={{ fontFamily: FONT }}>
                <CartesianGrid vertical={false} stroke="#c2c2c2" strokeWidth={1.2} />
                <XAxis
                    dataKey="jour"
                    type="number"
                    domain={X_DOMAIN}
                    allowDataOverflow
                    ticks={majorTicks}
                    interval={0}
                    tickFormatter={(v) => TICK_LABELS[Math.round(v / 15)]}
                    tick={tickStyle}
                    tickLine={false}
                    tickSize={0}
                    tickMargin={11}
                    axisLine={{ stroke: "#222", strokeWidth: 1.6 }}
                    height={40}
                />
                <XAxis
                    xAxisId="bas"
                    type="number"
                    domain={X_DOMAIN}
                    allowDataOverflow
                    ticks={minorTicks}
                    interval={0}
                    mirror
                    tickFormatter={noLabel}
                    tickSize={8}
                    tickLine={{ stroke: "#9a9a9a", strokeWidth: 1 }}
                    axisLine={false}
                />
                <XAxis
                    xAxisId="haut"
                    orientation="top"
                    type="number"
                    domain={X_DOMAIN}
                    allowDataOverflow
                    ticks={minorTicks}
                    interval={0}
                    mirror
                    tickFormatter={noLabel}
                    tickSize={8}
                    tickLine={{ stroke: "#9a9a9a", strokeWidth: 1 }}
                    axisLine={{ stroke: "#222", strokeWidth: 1.6 }}
                />
                <YAxis
                    type="number"
                    domain={Y_DOMAIN}
                    allowDataOverflow
                    ticks={Y_TICKS}
                    interval={0}
                    width={124}
                    tickFormatter={fmtY}
                    tick={tickStyle}
                    tickLine={false}
                    tickSize={0}
                    tickMargin={12}
                    axisLine={{ stroke: "#222", strokeWidth: 1.6 }}
                >
                    <Label content={renderYTitle} />
                </YAxis>
                <YAxis
                    yAxisId="g"
                    type="number"
                    domain={Y_DOMAIN}
                    allowDataOverflow
                    ticks={Y_TICKS}
                    interval={0}
                    mirror
                    tickFormatter={noLabel}
                    tickSize={10}
                    tickLine={{ stroke: "#8a8a8a", strokeWidth: 1.2 }}
                    axisLine={false}
                />
                <YAxis
                    yAxisId="d"
                    orientation="right"
                    type="number"
                    domain={Y_DOMAIN}
                    allowDataOverflow
                    ticks={Y_TICKS}
                    interval={0}
                    mirror
                    tickFormatter={noLabel}
                    tickSize={10}
                    tickLine={{ stroke: "#8a8a8a", strokeWidth: 1.2 }}
                    axisLine={{ stroke: "#222", strokeWidth: 1.6 }}
                />
                <Line dataKey="france" name={NOMS.france} stroke="#000" strokeWidth={4} dot={false} activeDot={false} isAnimationActive={false} />
                <Line dataKey="grece" name={NOMS.grece} stroke="#ff0000" strokeWidth={1} dot={dotFor("grece")} activeDot={false} isAnimationActive={false} />
                <Line dataKey="coree" name={NOMS.coree} stroke="#a5825c" strokeWidth={1.2} dot={dotFor("coree")} activeDot={false} isAnimationActive={false} />
                <Line dataKey="russie" name={NOMS.russie} stroke="#000" strokeWidth={1} dot={dotFor("russie")} activeDot={false} isAnimationActive={false} />
                <Line dataKey="japon" name={NOMS.japon} stroke="#0000ff" strokeWidth={1} dot={dotFor("japon")} activeDot={false} isAnimationActive={false} />
                <Line dataKey="bresil" name={NOMS.bresil} stroke="#ff8000" strokeWidth={1.3} dot={dotFor("bresil")} activeDot={false} isAnimationActive={false} />
                <Legend
                    layout="vertical"
                    align="center"
                    verticalAlign="middle"
                    wrapperStyle={{ left: 1225, top: 23, width: 460 }}
                    content={() => <LegendBox />}
                />
            </LineChart>
        </div>
    );
}
